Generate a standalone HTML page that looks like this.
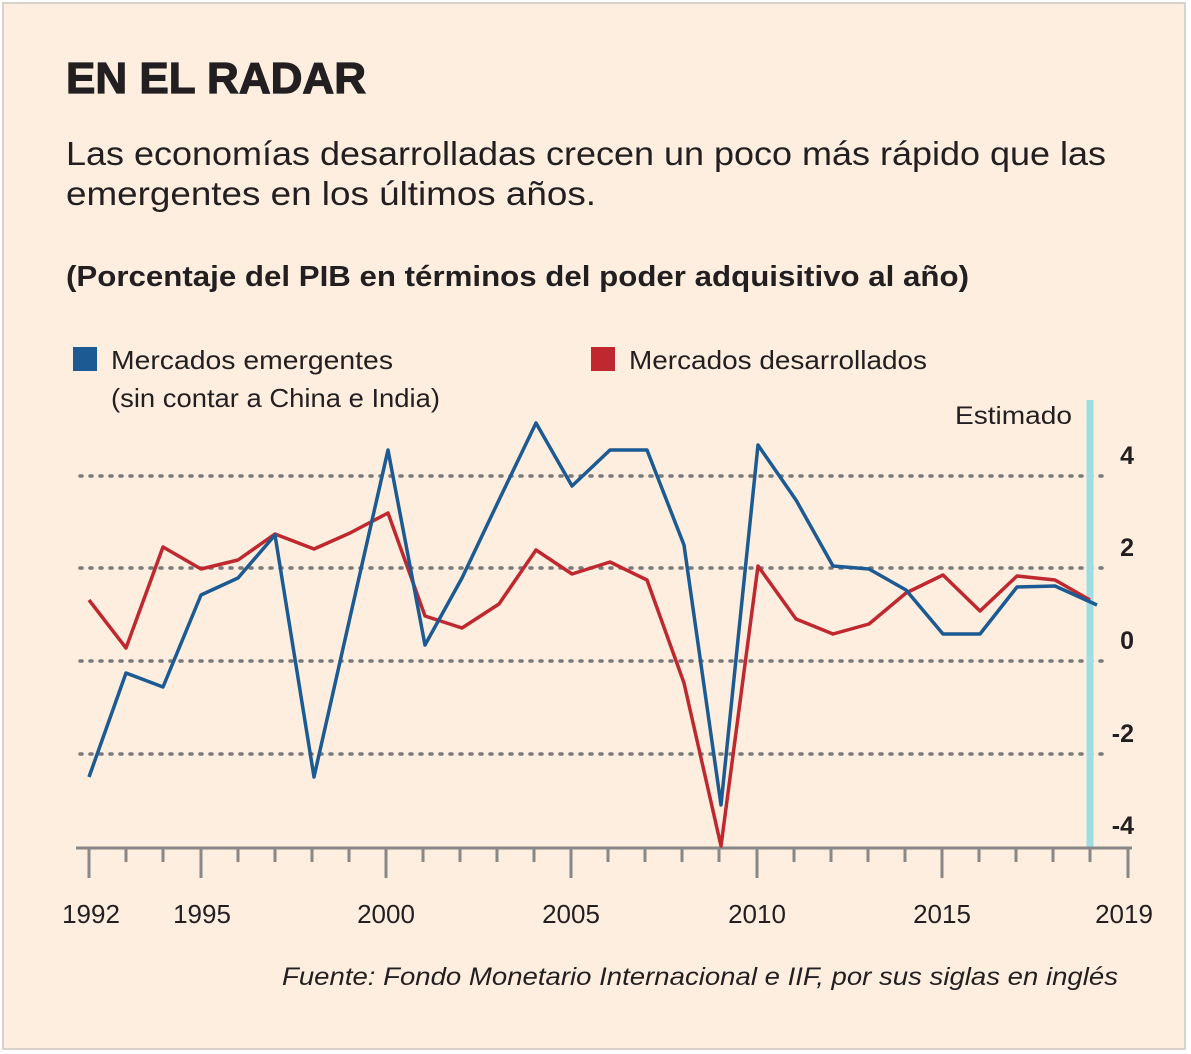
<!DOCTYPE html>
<html><head><meta charset="utf-8"><style>
html,body{margin:0;padding:0;background:#fff;}
.wrap{position:relative;width:1191px;height:1054px;overflow:hidden;}
svg{position:absolute;left:0;top:0;}
text{font-family:"Liberation Sans",sans-serif;fill:#231f20;}
</style></head><body><div class="wrap">
<svg width="1191" height="1054" viewBox="0 0 1191 1054">
<rect x="3" y="3" width="1182" height="1046" fill="#fdeee0" stroke="#d8d2cc" stroke-width="2"/>
<text x="66" y="93" font-size="44" font-weight="bold" stroke="#231f20" stroke-width="1.2" textLength="300" lengthAdjust="spacingAndGlyphs">EN EL RADAR</text>
<text x="66" y="165" font-size="33" textLength="1040" lengthAdjust="spacingAndGlyphs">Las economías desarrolladas crecen un poco más rápido que las</text>
<text x="66" y="205" font-size="33" textLength="530" lengthAdjust="spacingAndGlyphs">emergentes en los últimos años.</text>
<text x="66" y="286" font-size="29" font-weight="bold" textLength="903" lengthAdjust="spacingAndGlyphs">(Porcentaje del PIB en términos del poder adquisitivo al año)</text>
<rect x="73" y="347" width="24" height="24" fill="#1b5a92"/>
<text x="111" y="369" font-size="26" textLength="282" lengthAdjust="spacingAndGlyphs">Mercados emergentes</text>
<text x="111" y="407" font-size="26" textLength="329" lengthAdjust="spacingAndGlyphs">(sin contar a China e India)</text>
<rect x="591" y="347" width="24" height="24" fill="#c0282f"/>
<text x="629" y="369" font-size="26" textLength="298" lengthAdjust="spacingAndGlyphs">Mercados desarrollados</text>
<text x="955" y="424" font-size="25" textLength="117" lengthAdjust="spacingAndGlyphs">Estimado</text>
<g stroke="#7a7a7a" stroke-width="3.5" stroke-dasharray="2,8" stroke-linecap="round">
<line x1="80" y1="476" x2="1110" y2="476"/><line x1="80" y1="568" x2="1110" y2="568"/>
<line x1="80" y1="661" x2="1110" y2="661"/><line x1="80" y1="754" x2="1110" y2="754"/>
</g>
<g font-size="25" font-weight="bold" text-anchor="end">
<text x="1134" y="464">4</text><text x="1134" y="556">2</text><text x="1134" y="649">0</text>
<text x="1134" y="742">-2</text><text x="1134" y="834">-4</text></g>
<line x1="1090" y1="400" x2="1090" y2="848" stroke="#9fdde3" stroke-width="7"/>
<line x1="76" y1="848" x2="1132" y2="848" stroke="#888" stroke-width="3"/>
<g font-size="26" text-anchor="middle">
<text x="91" y="923">1992</text><text x="202" y="923">1995</text><text x="386" y="923">2000</text>
<text x="571" y="923">2005</text><text x="757" y="923">2010</text><text x="942" y="923">2015</text><text x="1124" y="923">2019</text></g>
<polyline fill="none" stroke="#c0282f" stroke-width="3.5" stroke-linejoin="round" points="89,600 126,648 163,547 201,569 238,560 275,534 314,549 350,533 388,513 425,616 462,628 499,604 536,550 572,574 610,562 647,580 684,683 721,846 758,566 796,619 833,634 869,624 906,593 943,575 980,611 1017,576 1055,580 1090,600"/>
<polyline fill="none" stroke="#1b5a92" stroke-width="3.5" stroke-linejoin="round" points="89,777 126,673 163,687 201,595 238,578 275,535 314,777 351,613 388,450 425,645 462,578 499,500 536,423 572,486 610,450 647,450 684,545 721,805 758,445 796,500 833,566 869,569 906,590 943,634 980,634 1017,587 1055,586 1097,605"/>
<text x="1118" y="985" font-size="25" font-style="italic" text-anchor="end" textLength="836" lengthAdjust="spacingAndGlyphs">Fuente: Fondo Monetario Internacional e IIF, por sus siglas en inglés</text>
<g stroke="#888" stroke-width="3">
<line x1="89" y1="848" x2="89" y2="878"/><line x1="126" y1="848" x2="126" y2="862"/><line x1="163" y1="848" x2="163" y2="862"/>
<line x1="201" y1="848" x2="201" y2="878"/><line x1="238" y1="848" x2="238" y2="862"/><line x1="275" y1="848" x2="275" y2="862"/>
<line x1="312" y1="848" x2="312" y2="862"/><line x1="349" y1="848" x2="349" y2="862"/><line x1="386" y1="848" x2="386" y2="878"/>
<line x1="423" y1="848" x2="423" y2="862"/><line x1="460" y1="848" x2="460" y2="862"/><line x1="497" y1="848" x2="497" y2="862"/>
<line x1="534" y1="848" x2="534" y2="862"/><line x1="571" y1="848" x2="571" y2="878"/><line x1="608" y1="848" x2="608" y2="862"/>
<line x1="645" y1="848" x2="645" y2="862"/><line x1="682" y1="848" x2="682" y2="862"/><line x1="719" y1="848" x2="719" y2="862"/>
<line x1="757" y1="848" x2="757" y2="878"/><line x1="794" y1="848" x2="794" y2="862"/><line x1="831" y1="848" x2="831" y2="862"/>
<line x1="868" y1="848" x2="868" y2="862"/><line x1="905" y1="848" x2="905" y2="862"/><line x1="942" y1="848" x2="942" y2="878"/>
<line x1="979" y1="848" x2="979" y2="862"/><line x1="1016" y1="848" x2="1016" y2="862"/><line x1="1053" y1="848" x2="1053" y2="862"/>
<line x1="1090" y1="848" x2="1090" y2="862"/><line x1="1128" y1="848" x2="1128" y2="878"/>
</g>
</svg>
</div></body></html>
